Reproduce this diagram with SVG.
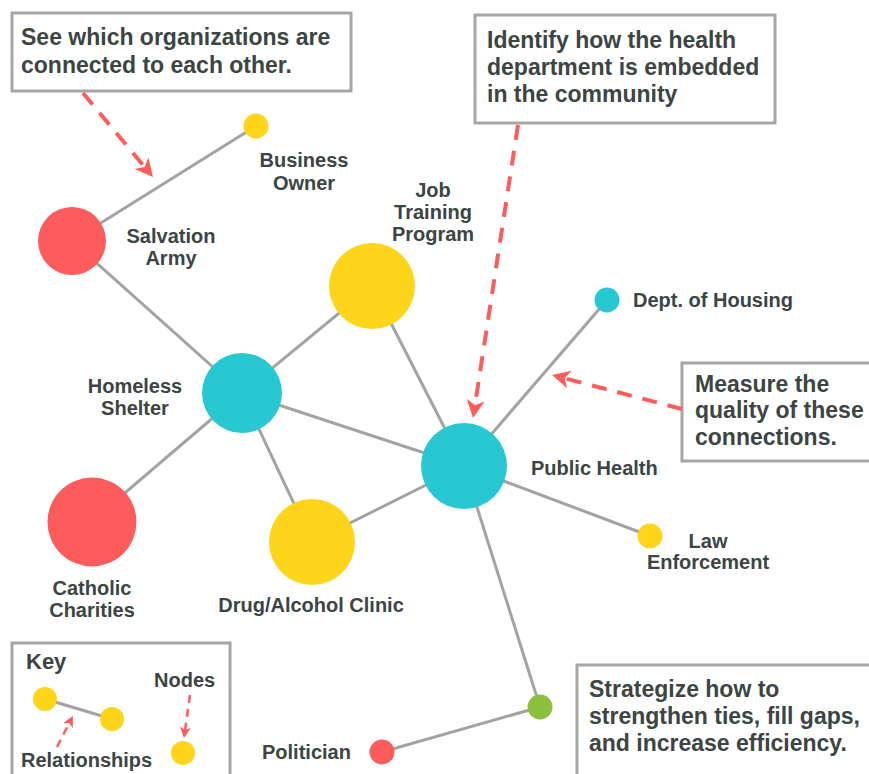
<svg xmlns="http://www.w3.org/2000/svg" width="869" height="774" viewBox="0 0 869 774">
<defs>
<style>
.edge{stroke:#a3a3a3;stroke-width:3;fill:none}
.box{fill:#fff;stroke:#a6a6a6;stroke-width:3}
.note{font-family:"Liberation Sans",Arial,sans-serif;font-weight:bold;font-size:23px;fill:#3c4543}
.lbl{font-family:"Liberation Sans",Arial,sans-serif;font-weight:bold;font-size:20px;fill:#3c4543}
.mid{text-anchor:middle}
.red{fill:#fd5c5c}
.yel{fill:#fed51b}
.teal{fill:#27c8d2}
.grn{fill:#8cc03f}
.arr{stroke:#fd5c5c;stroke-width:4;fill:none;stroke-dasharray:15 11;marker-end:url(#ah)}
.arrs{stroke:#fd5c5c;stroke-width:2.5;fill:none;stroke-dasharray:8 6;marker-end:url(#ahs)}
</style>
<marker id="ah" markerUnits="userSpaceOnUse" markerWidth="20" markerHeight="20" refX="8" refY="9" orient="auto">
<path d="M0,0 L18,9 L0,18 L5,9 z" fill="#fd5c5c"/>
</marker>
<marker id="ahs" markerUnits="userSpaceOnUse" markerWidth="12" markerHeight="12" refX="5" refY="5.5" orient="auto">
<path d="M0,0 L11,5.5 L0,11 L3,5.5 z" fill="#fd5c5c"/>
</marker>
</defs>
<rect width="869" height="774" fill="#fff"/>

<g id="connectors">
<line class="edge" x1="256" y1="126" x2="72" y2="241"/>
<line class="edge" x1="72" y1="241" x2="242" y2="393"/>
<line class="edge" x1="242" y1="393" x2="372" y2="286"/>
<line class="edge" x1="242" y1="393" x2="92" y2="521"/>
<line class="edge" x1="242" y1="393" x2="312" y2="542"/>
<line class="edge" x1="242" y1="393" x2="464" y2="466"/>
<line class="edge" x1="372" y1="286" x2="464" y2="466"/>
<line class="edge" x1="312" y1="542" x2="464" y2="466"/>
<line class="edge" x1="464" y1="466" x2="607" y2="300"/>
<line class="edge" x1="464" y1="466" x2="650" y2="536"/>
<line class="edge" x1="464" y1="466" x2="540" y2="707"/>
<line class="edge" x1="540" y1="707" x2="382" y2="752"/>
</g>

<g id="node-business-owner">
<circle class="yel" cx="256" cy="126" r="12.5"/>
<text class="lbl mid" x="304" y="167">Business</text>
<text class="lbl mid" x="304" y="190">Owner</text>
</g>
<g id="node-salvation-army">
<circle class="red" cx="72" cy="241" r="34"/>
<text class="lbl mid" x="171" y="243">Salvation</text>
<text class="lbl mid" x="171" y="265">Army</text>
</g>
<g id="node-job-training">
<circle class="yel" cx="372" cy="286" r="43"/>
<text class="lbl mid" x="433" y="197">Job</text>
<text class="lbl mid" x="433" y="219">Training</text>
<text class="lbl mid" x="433" y="241">Program</text>
</g>
<g id="node-homeless-shelter">
<circle class="teal" cx="242" cy="393" r="40"/>
<text class="lbl mid" x="135" y="393">Homeless</text>
<text class="lbl mid" x="135" y="415">Shelter</text>
</g>
<g id="node-catholic-charities">
<circle class="red" cx="92" cy="522" r="44.5"/>
<text class="lbl mid" x="92" y="595">Catholic</text>
<text class="lbl mid" x="92" y="617">Charities</text>
</g>
<g id="node-drug-alcohol">
<circle class="yel" cx="312" cy="542" r="43"/>
<text class="lbl mid" x="311" y="612">Drug/Alcohol Clinic</text>
</g>
<g id="node-public-health">
<circle class="teal" cx="464" cy="466" r="43"/>
<text class="lbl" x="531" y="475">Public Health</text>
</g>
<g id="node-dept-housing">
<circle class="teal" cx="607" cy="300" r="12.5"/>
<text class="lbl" x="633" y="307">Dept. of Housing</text>
</g>
<g id="node-law-enforcement">
<circle class="yel" cx="650" cy="536" r="12.5"/>
<text class="lbl mid" x="708" y="548">Law</text>
<text class="lbl mid" x="708" y="569">Enforcement</text>
</g>
<g id="node-green">
<circle class="grn" cx="540" cy="707" r="12.5"/>
</g>
<g id="node-politician">
<circle class="red" cx="382" cy="752" r="12.5"/>
<text class="lbl" x="262" y="759">Politician</text>
</g>

<g id="note-see">
<rect class="box" x="12" y="13" width="339" height="78"/>
<text class="note" x="21" y="45">See which organizations are</text>
<text class="note" x="21" y="73">connected to each other.</text>
</g>
<g id="note-identify">
<rect class="box" x="475" y="15" width="300" height="108"/>
<text class="note" x="487" y="48">Identify how the health</text>
<text class="note" x="487" y="75">department is embedded</text>
<text class="note" x="487" y="102">in the community</text>
</g>
<g id="note-measure">
<rect class="box" x="682" y="363" width="200" height="98"/>
<text class="note" x="695" y="392">Measure the</text>
<text class="note" x="695" y="418">quality of these</text>
<text class="note" x="695" y="445">connections.</text>
</g>
<g id="note-strategize">
<rect class="box" x="577" y="665" width="300" height="120"/>
<text class="note" x="589" y="697">Strategize how to</text>
<text class="note" x="589" y="724">strengthen ties, fill gaps,</text>
<text class="note" x="589" y="751">and increase efficiency.</text>
</g>

<g id="key">
<rect class="box" x="12" y="643" width="218" height="140"/>
<text class="note" x="26" y="669" style="font-size:22px">Key</text>
<line class="edge" x1="45" y1="699" x2="112" y2="719"/>
<circle class="yel" cx="45" cy="699" r="12"/>
<circle class="yel" cx="112" cy="719" r="12"/>
<circle class="yel" cx="183" cy="753" r="12"/>
<text class="lbl" x="154" y="687">Nodes</text>
<text class="lbl" x="21" y="767">Relationships</text>
</g>

<g id="arrows">
<line class="arr" x1="83" y1="93" x2="146.6" y2="169.3"/>
<line class="arr" x1="518" y1="125" x2="474.5" y2="408.1"/>
<line class="arr" x1="682" y1="409" x2="561.7" y2="377.5"/>
<line class="arrs" x1="57" y1="747" x2="70.2" y2="721.3"/>
<line class="arrs" x1="190" y1="695" x2="184.8" y2="732.1"/>
</g>
</svg>
